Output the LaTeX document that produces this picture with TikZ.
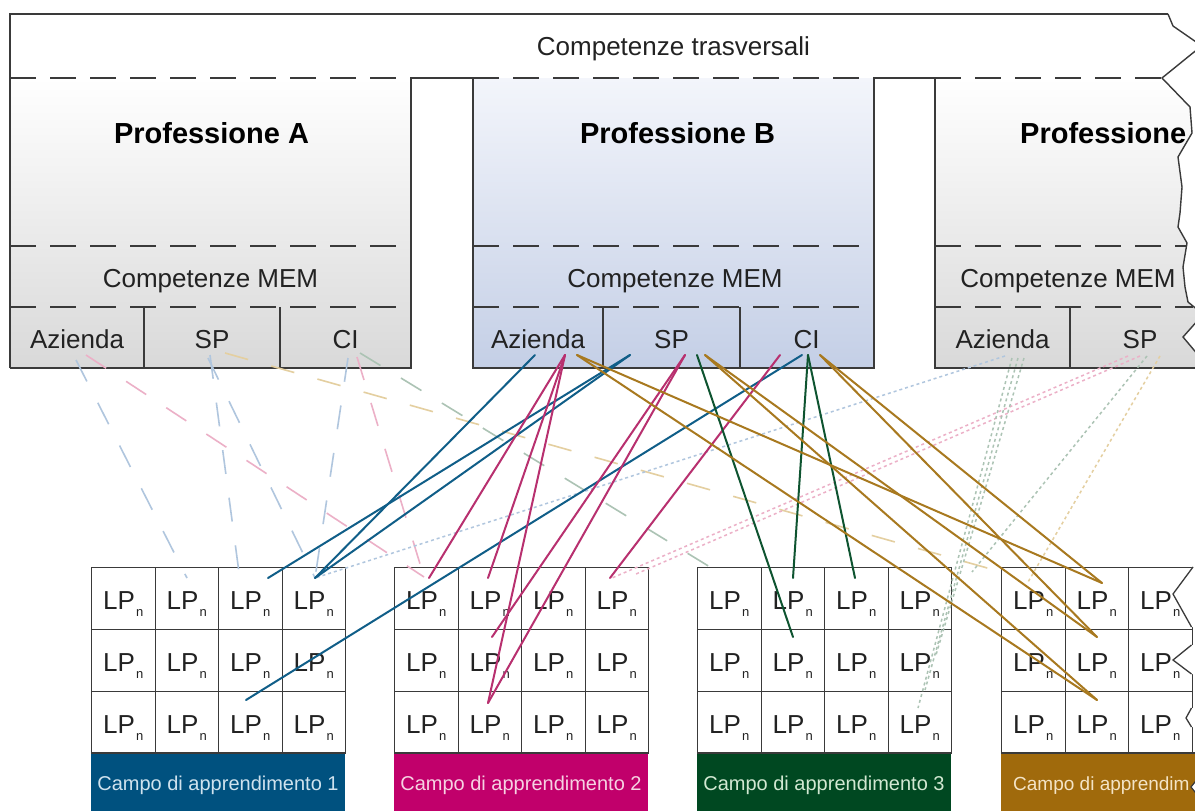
\documentclass[tikz,border=0pt]{standalone}
\usepackage{fontspec}
\setmainfont{Liberation Sans}
\usetikzlibrary{calc}
\definecolor{linec}{HTML}{3A3A3A}
\definecolor{textc}{HTML}{222222}
\definecolor{cblue}{HTML}{105E88}
\definecolor{cmag}{HTML}{B8306F}
\definecolor{cgreen}{HTML}{0E5430}
\definecolor{cbrown}{HTML}{A8791F}
\definecolor{fblue}{HTML}{00517F}
\definecolor{fmag}{HTML}{C1006B}
\definecolor{fgreen}{HTML}{004821}
\definecolor{fbrown}{HTML}{A06A0C}
\definecolor{tblue}{HTML}{CFE2EE}
\definecolor{tmag}{HTML}{F6D2E2}
\definecolor{tgreen}{HTML}{D2E8D2}
\definecolor{tbrown}{HTML}{F4E4C6}
\definecolor{lblue}{HTML}{B0C6DE}
\definecolor{lpink}{HTML}{ECB0C7}
\definecolor{lyellow}{HTML}{E4CFA0}
\definecolor{lgreen}{HTML}{ACC3B4}
\definecolor{btop}{HTML}{F3F5FB}
\definecolor{bbot}{HTML}{C4CFE6}
\tikzset{
  bord/.style={draw=linec, line width=1.4pt},
  dsh/.style={draw=linec, line width=1.4pt, dash pattern=on 26pt off 14pt},
  lbl/.style={inner sep=0pt, anchor=base, font=\fontsize{26}{30}\selectfont, text=textc},
  ptitle/.style={inner sep=0pt, anchor=base, font=\bfseries\fontsize{29}{34}\selectfont, text=black},
  cellbox/.style={draw=linec, line width=1.3pt, fill=white, minimum width=63.5pt, minimum height=62pt, inner sep=0pt, anchor=north west},
  lp/.style={anchor=base west, inner sep=0pt, font=\fontsize{26}{30}\selectfont, text=textc},
  bandbox/.style={inner sep=0pt, minimum height=60pt, anchor=north west},
  bandtxt/.style={inner sep=0pt, anchor=base, font=\fontsize{20}{24}\selectfont},
  conn/.style={line width=2pt, line cap=round},
  faint/.style={line width=1.6pt, dash pattern=on 24pt off 24pt},
  dott/.style={line width=1.5pt, dash pattern=on 3pt off 3pt},
}
\begin{document}
\begin{tikzpicture}[x=1pt,y=-1pt]
\useasboundingbox (0,0) rectangle (1195,811);
\clip (0,0) rectangle (1195,811);
\fill[white] (0,0) rectangle (1195,811);

% ---------- profession boxes: fills
\shade[top color=white, bottom color=black!15] (10,78) rectangle (411,368);
\shade[top color=btop, bottom color=bbot] (473,78) rectangle (874,368);
\shade[top color=white, bottom color=black!15] (935,78) -- (1162,78) -- (1190,107) -- (1192,133) -- (1178,157) -- (1182,187) -- (1180,213) -- (1178,227) -- (1187,243) -- (1183,267) -- (1185,287) -- (1188,302) -- (1199,311) -- (1199,319) -- (1183,337) -- (1199,356) -- (1199,368) -- (935,368) -- cycle;

% ---------- outlines
\draw[bord] (10,368) -- (10,14) -- (1168,14);
\draw[bord] (411,78) -- (473,78);
\draw[bord] (874,78) -- (935,78);
\draw[bord] (411,78) -- (411,368) -- (10,368);
\draw[bord] (473,78) -- (473,368) -- (874,368) -- (874,78);
\draw[bord] (935,78) -- (935,368) -- (1199,368);
\draw[bord] (1168,14) -- (1173,26) -- (1199,44) -- (1199,48) -- (1162,78) -- (1190,107) -- (1192,133) -- (1178,157) -- (1182,187) -- (1180,213) -- (1178,227) -- (1187,243) -- (1183,267) -- (1185,287) -- (1188,302) -- (1199,311) -- (1199,319) -- (1183,337) -- (1199,356);
% dashed separators
\draw[dsh] (10,78) -- (411,78);
\draw[dsh] (473,78) -- (874,78);
\draw[dsh] (935,78) -- (1162,78);
\draw[dsh] (10,246) -- (411,246);
\draw[dsh] (473,246) -- (874,246);
\draw[dsh] (935,246) -- (1186,246);
\draw[dsh] (10,307) -- (411,307);
\draw[dsh] (473,307) -- (874,307);
\draw[dsh] (935,307) -- (1193,307);
% sub-cell dividers
\draw[bord] (144,307) -- (144,368);
\draw[bord] (280,307) -- (280,368);
\draw[bord] (603,307) -- (603,368);
\draw[bord] (740,307) -- (740,368);
\draw[bord] (1070,307) -- (1070,368);

% ---------- texts in boxes
\node[lbl] (trasv) at (673.5,55) {Competenze trasversali};
\node[ptitle] (profA) at (211.5,143) {Professione A};
\node[ptitle] (profB) at (677.5,143) {Professione B};
\node[ptitle, anchor=base west] (profC) at (1020,143) {Professione};
\node[lbl] (memA) at (210.5,287) {Competenze MEM};
\node[lbl] (memB) at (675,287) {Competenze MEM};
\node[lbl] (memC) at (1068,287) {Competenze MEM};
\node[lbl] (azA) at (77,348) {Azienda};
\node[lbl] (spA) at (212,348) {SP};
\node[lbl] (ciA) at (345.5,348) {CI};
\node[lbl] (azB) at (538,348) {Azienda};
\node[lbl] (spB) at (671.5,348) {SP};
\node[lbl] (ciB) at (806.5,348) {CI};
\node[lbl] (azC) at (1002.5,348) {Azienda};
\node[lbl] (spC) at (1140,348) {SP};

% ---------- learning fields (grids)
\foreach \g/\gx in {1/91,2/394,3/697} {
  \foreach \r in {1,2,3} {
    \foreach \c in {1,2,3,4} {
      \node[cellbox] (g\g r\r c\c) at ({\gx+(\c-1)*63.5},{567+(\r-1)*62}) {};
    }
  }
}
\foreach \r in {1,2,3} {
  \foreach \c in {1,2,3} {
    \node[cellbox] (g4r\r c\c) at ({1001+(\c-1)*63.5},{567+(\r-1)*62}) {};
  }
}
% jagged right edge of field 4
\fill[white] (1193,566) -- (1173,594) -- (1191.5,627) -- (1199,627) -- (1199,566) -- cycle;
\fill[white] (1191.5,645) -- (1173,660) -- (1191.5,674) -- (1199,674) -- (1199,645) -- cycle;
\fill[white] (1191.5,708) -- (1186,718) -- (1191.5,727) -- (1199,727) -- (1199,708) -- cycle;
\draw[bord, line width=1.3pt] (1193,567) -- (1173,594) -- (1191.5,627);
\draw[bord, line width=1.3pt] (1191.5,645) -- (1173,660) -- (1191.5,674);
\draw[bord, line width=1.3pt] (1191.5,708) -- (1186,718) -- (1191.5,727);

\foreach \g/\gx in {1/91,2/394,3/697} {
  \foreach \r in {1,2,3} {
    \foreach \c in {1,2,3,4} {
      \node[lp] (t\g r\r c\c) at ({\gx+(\c-1)*63.5+12},{567+(\r-1)*62+42}) {LP\kern1pt\raisebox{-7pt}{\fontsize{13}{13}\selectfont n}};
    }
  }
}
\foreach \r in {1,2,3} {
  \foreach \c in {1,2,3} {
    \node[lp] (t4r\r c\c) at ({1001+(\c-1)*63.5+12},{567+(\r-1)*62+42}) {LP\kern1pt\raisebox{-7pt}{\fontsize{13}{13}\selectfont n}};
  }
}

% bands
\node[bandbox, fill=fblue, minimum width=254pt] (band1) at (91,753) {};
\node[bandbox, fill=fmag, minimum width=254pt] (band2) at (394,753) {};
\node[bandbox, fill=fgreen, minimum width=254pt] (band3) at (697,753) {};
\node[bandbox, fill=fbrown, minimum width=198pt] (band4) at (1001,753) {};
\draw[bord, line width=1.3pt] (91,753) -- (345,753);
\draw[bord, line width=1.3pt] (394,753) -- (648,753);
\draw[bord, line width=1.3pt] (697,753) -- (951,753);
\draw[bord, line width=1.3pt] (1001,753) -- (1199,753);
\node[bandtxt, text=tblue] (bt1) at (218,790) {Campo di apprendimento 1};
\node[bandtxt, text=tmag] (bt2) at (521,790) {Campo di apprendimento 2};
\node[bandtxt, text=tgreen] (bt3) at (824,790) {Campo di apprendimento 3};
\node[bandtxt, text=tbrown, anchor=base west, font=\fontsize{19}{23}\selectfont] (bt4) at (1013,790) {Campo di apprendim};
\fill[white] (1199,777) -- (1191,787) -- (1199,797) -- cycle;
\draw[bord, line width=1.2pt] (1199,777) -- (1191,787) -- (1199,797);

% ---------- connector end points
% starts, profession A
\coordinate (aAz1) at (76,360);
\coordinate (aAz2) at (86,355);
\coordinate (aSp1) at (210,355);
\coordinate (aSp2) at (208,358);
\coordinate (aSp3) at (225,353);
\coordinate (aCi1) at (348,358);
\coordinate (aCi2) at (357,357);
\coordinate (aCi3) at (360,353);
% starts, profession B
\coordinate (bAzBl) at (535,355);
\coordinate (bAzM) at (565,355);
\coordinate (bAzBr) at (577,355);
\coordinate (bSpBl) at (630,355);
\coordinate (bSpM) at (685,355);
\coordinate (bSpG) at (697,355);
\coordinate (bSpBr) at (705,355);
\coordinate (bCiM) at (780,355);
\coordinate (bCiBl) at (802,355);
\coordinate (bCiG) at (808,355);
\coordinate (bCiBr) at (820,355);
% starts, profession C
\coordinate (cAzBl) at (1005,356);
\coordinate (cAzG1) at (1012,358);
\coordinate (cAzG2) at (1018,358);
\coordinate (cAzG3) at (1024,358);
\coordinate (cSpP1) at (1128,356);
\coordinate (cSpP2) at (1140,356);
\coordinate (cSpG) at (1147,356);
\coordinate (cSpY) at (1160,356);
% ends
\coordinate (eLb1) at (187,578);
\coordinate (eLb2) at (240,580);
\coordinate (eBl1) at (268,578);
\coordinate (eBl2) at (315,578);
\coordinate (eBl3) at (246,700);
\coordinate (ePk) at (424,577);
\coordinate (eM1) at (429,578);
\coordinate (eM2) at (488,578);
\coordinate (eM3) at (492,637);
\coordinate (eM4) at (488,703);
\coordinate (eM5) at (610,578);
\coordinate (ePd1) at (612,578);
\coordinate (ePd2) at (636,574);
\coordinate (eGd) at (728,578);
\coordinate (eG1) at (793,578);
\coordinate (eG2) at (855,578);
\coordinate (eG3) at (793,637);
\coordinate (eGo1) at (918,708);
\coordinate (eGo2) at (925,690);
\coordinate (eGo3) at (936,655);
\coordinate (eGo4) at (972,572);
\coordinate (eYo) at (1028,582);
\coordinate (eYd) at (1005,573);
\coordinate (eBr1) at (1102,583);
\coordinate (eBr2) at (1097,637);
\coordinate (eBr3) at (1097,700);

% ---------- faint dashed links (profession A)
\draw[faint, lblue] (aAz1) -- (eLb1);
\draw[faint, lblue] (aSp1) -- (eLb2);
\draw[faint, lblue] (aSp2) -- (eBl2);
\draw[faint, lblue] (aCi1) -- (eBl2);
\draw[faint, lpink] (aAz2) -- (ePk);
\draw[faint, lpink] (aCi2) -- (ePk);
\draw[faint, lyellow] (aSp3) -- (eYd);
\draw[faint, lgreen] (aCi3) -- (eGd);

% ---------- dotted links (profession C)
\draw[dott, lblue] (cAzBl) -- (eBl2);
\draw[dott, lpink] (cSpP1) -- (ePd1);
\draw[dott, lpink] (cSpP2) -- (ePd2);
\draw[dott, lgreen] (cAzG1) -- (eGo1);
\draw[dott, lgreen] (cAzG2) -- (eGo2);
\draw[dott, lgreen] (cAzG3) -- (eGo3);
\draw[dott, lgreen] (cSpG) -- (eGo4);
\draw[dott, lyellow] (cSpY) -- (eYo);

% ---------- solid links (profession B)
\draw[conn, cblue] (bAzBl) -- (eBl2);
\draw[conn, cblue] (bSpBl) -- (eBl1);
\draw[conn, cblue] (bSpBl) -- (eBl2);
\draw[conn, cblue] (bCiBl) -- (eBl3);
\draw[conn, cmag] (bAzM) -- (eM1);
\draw[conn, cmag] (bAzM) -- (eM2);
\draw[conn, cmag] (bAzM) -- (eM4);
\draw[conn, cmag] (bSpM) -- (eM3);
\draw[conn, cmag] (bSpM) -- (eM4);
\draw[conn, cmag] (bCiM) -- (eM5);
\draw[conn, cgreen] (bSpG) -- (eG3);
\draw[conn, cgreen] (bCiG) -- (eG1);
\draw[conn, cgreen] (bCiG) -- (eG2);
\draw[conn, cbrown] (bAzBr) -- (eBr1);
\draw[conn, cbrown] (bAzBr) -- (eBr3);
\draw[conn, cbrown] (bSpBr) -- (eBr2);
\draw[conn, cbrown] (bSpBr) -- (eBr3);
\draw[conn, cbrown] (bCiBr) -- (eBr1);
\draw[conn, cbrown] (bCiBr) -- (eBr2);
\end{tikzpicture}
\end{document}
